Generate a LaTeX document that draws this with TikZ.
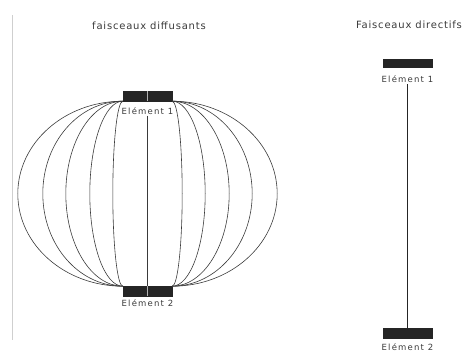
\documentclass[tikz,border=0pt]{standalone}
\usepackage{fontspec}
\setmainfont{DejaVu Sans}
\newfontfamily\scanfont[LetterSpace=8]{DejaVu Sans}
\newfontfamily\scanlabel[LetterSpace=14]{DejaVu Sans}
\usetikzlibrary{positioning}
\definecolor{inkdark}{HTML}{252525}
\definecolor{inkgray}{HTML}{3A3A3A}
\definecolor{framegray}{HTML}{CFCFCF}

\begin{document}
\begin{tikzpicture}[x=1pt, y=1pt,
  elembar/.style={draw=inkdark, fill=inkdark, minimum width=49pt, minimum height=10pt, inner sep=0pt},
  elemlbl/.style={font=\scanlabel\fontsize{8.5}{10}\selectfont, text=inkgray, inner sep=1pt},
  beamtitle/.style={font=\scanfont\fontsize{10}{12}\selectfont, text=inkgray, inner sep=1pt},
  beam/.style={draw=inkgray, line width=0.6pt}]

  \useasboundingbox (0,0) rectangle (467,352);
  \draw[framegray, line width=0.8pt] (12,12) -- (12,337);

  % diffusing beams
  \node[beamtitle] (tdiff) at (149,326) {faisceaux diffusants};
  \node[elembar] (d1) at (147.5,256) {};
  \node[elembar] (d2) at (147.5,61) {};
  \node[elemlbl, below=5pt of d1] (dl1) {Elément 1};
  \node[elemlbl, below=2pt of d2] (dl2) {Elément 2};
  \foreach \r in {10,33,57,80,105} {
    \draw[beam] (d1.south west) arc[start angle=90, end angle=270, x radius=\r, y radius=92.5];
    \draw[beam] (d1.south east) arc[start angle=90, end angle=-90, x radius=\r, y radius=92.5];
  }
  \draw[beam] (dl1.south) -- (d2.north);
  \draw[gray!60, line width=0.5pt] (d1.north) -- (d1.south);
  \draw[gray!60, line width=0.5pt] (d2.north) -- (d2.south);

  % directive beams
  \node[beamtitle] (tdir) at (409,327) {Faisceaux directifs};
  \node[elembar, minimum height=8pt] (r1) at (407.5,288.5) {};
  \node[elembar] (r2) at (407.5,19) {};
  \node[elemlbl, below=7pt of r1] (rl1) {Elément 1};
  \node[elemlbl, below=4pt of r2] (rl2) {Elément 2};
  \draw[inkdark, line width=1.5pt] (rl1.south) -- (r2.north);
\end{tikzpicture}
\end{document}
